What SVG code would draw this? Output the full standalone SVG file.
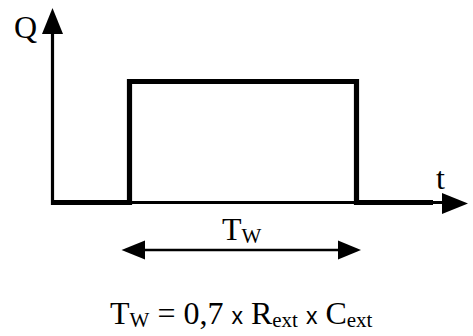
<svg xmlns="http://www.w3.org/2000/svg" width="473" height="336" viewBox="0 0 473 336">
<style>
text{font-family:"Liberation Serif","Times New Roman",serif;fill:#000;font-size:32px}
.sub{font-size:21px}
.xs{font-family:"Liberation Sans",Arial,sans-serif;font-size:23px}
.ax{stroke:#000;stroke-width:3.2;fill:none}
.sig{stroke:#000;stroke-width:5.2;fill:none;stroke-linejoin:miter}
.dim{stroke:#000;stroke-width:2.5;fill:none}
</style>
<g id="axes">
<line class="ax" x1="52.5" y1="205" x2="52.5" y2="30"/>
<polygon points="52.5,8 42,34 63,34"/>
<line class="ax" x1="52" y1="202.5" x2="445" y2="202.5"/>
<polygon points="468,203.5 442,193 442,214"/>
</g>
<g id="signal">
<polyline class="sig" points="51,202.5 129.5,202.5 129.5,81.5 356.5,81.5 356.5,202.5 433,202.5"/>
</g>
<g id="width-arrow">
<line class="dim" x1="140" y1="250" x2="342" y2="250"/>
<polygon points="121.5,250 145,240.5 145,259.5"/>
<polygon points="361,250 338,240.5 338,259.5"/>
</g>
<text x="14" y="38">Q</text>
<text x="436" y="189">t</text>
<text x="222" y="240">T<tspan class="sub" dy="3">W</tspan></text>
<text x="110" y="324">T<tspan class="sub" dy="3">W</tspan><tspan dy="-3"> = 0,7 </tspan><tspan class="xs">x</tspan> R<tspan class="sub" dy="3">ext</tspan><tspan dy="-3"> </tspan><tspan class="xs">x</tspan> C<tspan class="sub" dy="3">ext</tspan></text>
</svg>
